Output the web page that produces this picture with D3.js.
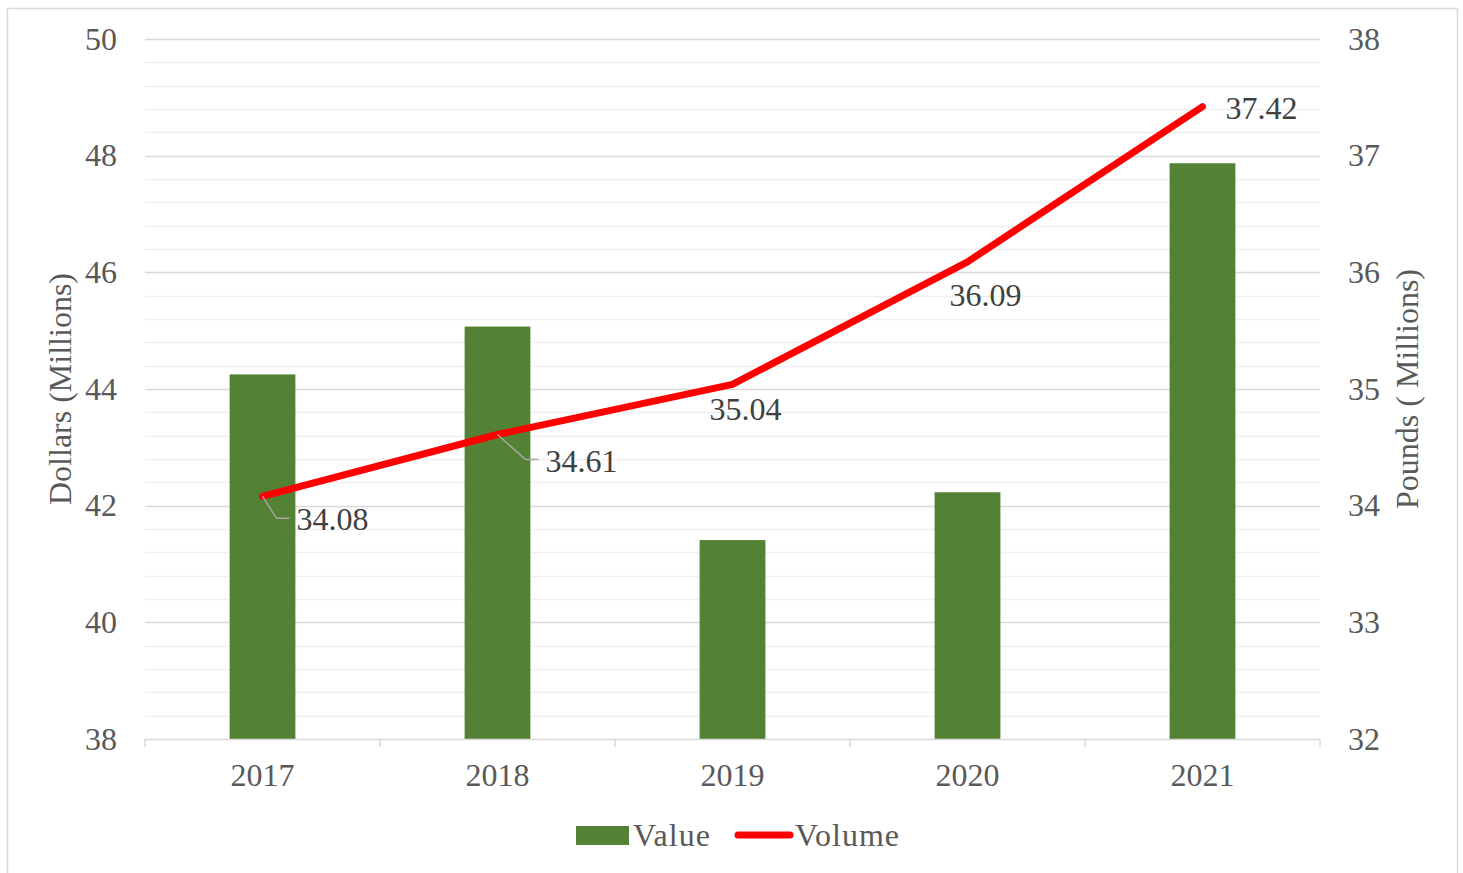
<!DOCTYPE html>
<html>
<head>
<meta charset="utf-8">
<script src="https://cdn.jsdelivr.net/npm/d3@7"></script>
<style>
  body { margin: 0; background: #fff; }
  svg text { font-family: "Liberation Serif", "Times New Roman", serif; }
</style>
</head>
<body>
<div id="chart"></div>
<script>
// Data
const years = ["2017", "2018", "2019", "2020", "2021"];
const valueDollars = [44.25, 45.07, 41.41, 42.23, 47.87];   // Dollars (Millions)
const volumePounds = [34.08, 34.61, 35.04, 36.09, 37.42];   // Pounds (Millions)
const leftTicks = [38, 40, 42, 44, 46, 48, 50];
const rightTicks = [32, 33, 34, 35, 36, 37, 38];

// label placement (dx, dy from point, anchor, leader line?)
const labelPlacement = [
  { dx: 34, dy: 34, anchor: "start", leader: true },
  { dx: 48, dy: 37, anchor: "start", leader: true },
  { dx: 13, dy: 36, anchor: "middle", leader: false },
  { dx: 18, dy: 44, anchor: "middle", leader: false },
  { dx: 23, dy: 12, anchor: "start", leader: false }
];

function drawChart() {
  const W = 1463, H = 873;
  const margin = { top: 39, right: 143, bottom: 134, left: 145 };
  const width = W - margin.left - margin.right;
  const height = H - margin.top - margin.bottom;
  const fs = 32;

  const svg = d3.select("#chart").append("svg")
    .attr("width", W)
    .attr("height", H);

  // outer frame
  svg.append("rect")
    .attr("x", 7.5).attr("y", 8.5)
    .attr("width", 1450).attr("height", 870)
    .attr("fill", "none")
    .attr("stroke", "#d9d9d9")
    .attr("stroke-width", 1.5);

  const g = svg.append("g")
    .attr("transform", `translate(${margin.left},${margin.top})`);

  const x = d3.scaleBand().domain(years).range([0, width]).padding(0);
  const yL = d3.scaleLinear().domain([38, 50]).range([height, 0]);
  const yR = d3.scaleLinear().domain([32, 38]).range([height, 0]);

  // minor gridlines
  const minor = d3.range(38, 50.001, 0.4).filter(v => Math.abs(v / 2 - Math.round(v / 2)) > 0.01);
  g.selectAll(".minor").data(minor).enter().append("line")
    .attr("x1", 0).attr("x2", width)
    .attr("y1", d => Math.round(yL(d)) + 0.5).attr("y2", d => Math.round(yL(d)) + 0.5)
    .attr("stroke", "#f0f0f0").attr("stroke-width", 1.5);

  // major gridlines
  g.selectAll(".major").data(leftTicks.slice(1)).enter().append("line")
    .attr("x1", 0).attr("x2", width)
    .attr("y1", d => Math.round(yL(d)) + 0.5).attr("y2", d => Math.round(yL(d)) + 0.5)
    .attr("stroke", "#d9d9d9").attr("stroke-width", 1.5);

  // left axis labels
  g.selectAll(".ltick").data(leftTicks).enter().append("text")
    .attr("x", -28).attr("y", d => yL(d))
    .attr("dy", "0.33em")
    .attr("text-anchor", "end")
    .attr("font-size", fs)
    .attr("fill", "#595959")
    .text(d => d);

  // right axis labels
  g.selectAll(".rtick").data(rightTicks).enter().append("text")
    .attr("x", width + 28).attr("y", d => yR(d))
    .attr("dy", "0.33em")
    .attr("text-anchor", "start")
    .attr("font-size", fs)
    .attr("fill", "#595959")
    .text(d => d);

  // bars
  const barW = x.bandwidth() * 0.28;
  g.selectAll(".bar").data(years).enter().append("rect")
    .attr("x", d => x(d) + x.bandwidth() / 2 - barW / 2)
    .attr("width", barW)
    .attr("y", (d, i) => yL(valueDollars[i]))
    .attr("height", (d, i) => height - yL(valueDollars[i]))
    .attr("fill", "#548235");

  // x axis line + ticks
  const xAxis = g.append("g").attr("transform", `translate(0,${height})`);
  xAxis.append("line")
    .attr("x1", 0).attr("x2", width).attr("y1", 0.5).attr("y2", 0.5)
    .attr("stroke", "#d9d9d9").attr("stroke-width", 1.5);
  const tickPos = years.map(d => x(d)).concat([width]);
  xAxis.selectAll(".xt").data(tickPos).enter().append("line")
    .attr("x1", d => d).attr("x2", d => d)
    .attr("y1", 0).attr("y2", 8)
    .attr("stroke", "#d9d9d9").attr("stroke-width", 1.5);
  xAxis.selectAll(".xl").data(years).enter().append("text")
    .attr("x", d => x(d) + x.bandwidth() / 2)
    .attr("y", 47)
    .attr("text-anchor", "middle")
    .attr("font-size", fs)
    .attr("fill", "#595959")
    .text(d => d);

  // line
  const line = d3.line()
    .x((d, i) => x(years[i]) + x.bandwidth() / 2)
    .y(d => yR(d));
  g.append("path")
    .datum(volumePounds)
    .attr("d", line)
    .attr("fill", "none")
    .attr("stroke", "#ff0000")
    .attr("stroke-width", 7)
    .attr("stroke-linecap", "round")
    .attr("stroke-linejoin", "round");

  // data labels
  volumePounds.forEach((v, i) => {
    const px = x(years[i]) + x.bandwidth() / 2;
    const py = yR(v);
    const p = labelPlacement[i];
    if (p.leader) {
      const ex = px + p.dx - 7, ey = py + p.dy - 12;
      g.append("polyline")
        .attr("points", `${px},${py} ${ex - 13},${ey} ${ex},${ey}`)
        .attr("fill", "none")
        .attr("stroke", "#a6a6a6")
        .attr("stroke-width", 1.5);
    }
    g.append("text")
      .attr("x", px + p.dx)
      .attr("y", py + p.dy)
      .attr("text-anchor", p.anchor)
      .attr("font-size", fs)
      .attr("fill", "#404040")
      .text(v.toFixed(2));
  });

  // axis titles
  svg.append("text")
    .attr("transform", `translate(71,${margin.top + height / 2}) rotate(-90)`)
    .attr("text-anchor", "middle")
    .attr("font-size", 32)
    .attr("fill", "#595959")
    .text("Dollars (Millions)");

  svg.append("text")
    .attr("transform", `translate(1418,${margin.top + height / 2}) rotate(-90)`)
    .attr("text-anchor", "middle")
    .attr("font-size", 32)
    .attr("fill", "#595959")
    .text("Pounds ( Millions)");

  // legend
  const legend = svg.append("g").attr("transform", "translate(576,835)");
  legend.append("rect")
    .attr("x", 0).attr("y", -9).attr("width", 53).attr("height", 19)
    .attr("fill", "#548235");
  legend.append("text")
    .attr("x", 57).attr("y", 11)
    .attr("font-size", fs).attr("letter-spacing", 1)
    .attr("fill", "#595959")
    .text("Value");
  legend.append("line")
    .attr("x1", 162).attr("x2", 214).attr("y1", 0).attr("y2", 0)
    .attr("stroke", "#ff0000").attr("stroke-width", 7)
    .attr("stroke-linecap", "round");
  legend.append("text")
    .attr("x", 219).attr("y", 11)
    .attr("font-size", fs).attr("letter-spacing", 1)
    .attr("fill", "#595959")
    .text("Volume");
}

document.addEventListener("DOMContentLoaded", drawChart);
</script>
</body>
</html>
